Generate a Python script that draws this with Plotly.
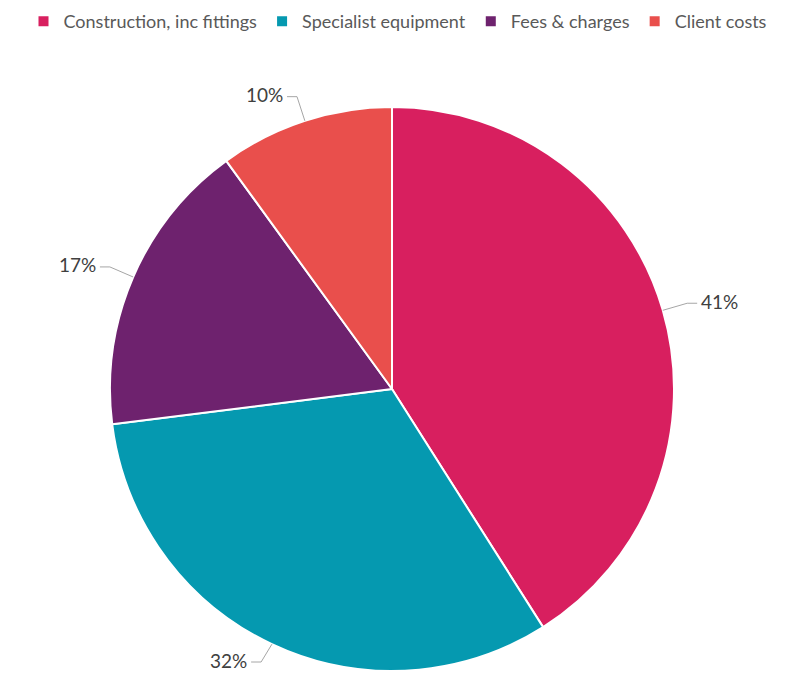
import math
import plotly.graph_objects as go

# cost breakdown, clockwise from 12 o'clock
categories = ['Construction, inc fittings', 'Specialist equipment', 'Fees & charges', 'Client costs']
shares = [41, 32, 17, 10]
colours = ['#D81F5F', '#0599B0', '#6E226E', '#E94F4C']

# the page body adds an 8px margin, so the figure is drawn 8px smaller
OFF = 8
W, H = 790 - OFF, 675 - OFF
# pie domain in page pixels (left, right, top, bottom), shifted into figure space
px_left, px_right, px_top, px_bottom = 110 - OFF, 674 - OFF, 107 - OFF, 671 - OFF
cx = (px_left + px_right) / 2
cy = (px_top + px_bottom) / 2
r = min(px_right - px_left, px_bottom - px_top) / 2

fig = go.Figure(go.Pie(
    labels=categories,
    values=shares,
    sort=False,
    direction='clockwise',
    rotation=0,
    marker=dict(colors=colours, line=dict(color='white', width=2)),
    textinfo='none',
    hoverinfo='label+percent',
    domain=dict(x=[px_left / W, px_right / W], y=[1 - px_bottom / H, 1 - px_top / H]),
))

# outside percentage labels with leader lines, placed at each slice's mid angle
total = sum(shares)
annotations = []
shapes = []
cum = 0
for v in shares:
    mid = (cum + v / 2) / total * 2 * math.pi
    cum += v
    sx, sy = math.sin(mid), -math.cos(mid)
    ex, ey = cx + r * sx, cy + r * sy
    bx, by = cx + 1.09 * r * sx, cy + 1.09 * r * sy
    by = min(by, H - 13)  # keep bottom labels inside the figure
    side = 1 if sx >= 0 else -1
    tx = bx + side * 10
    pct = round(100 * v / total)
    for (x0, y0, x1, y1) in [(ex, ey, bx, by), (bx, by, tx, by)]:
        shapes.append(dict(type='line', xref='paper', yref='paper',
                           x0=x0 / W, y0=1 - y0 / H, x1=x1 / W, y1=1 - y1 / H,
                           line=dict(color='#A6A6A6', width=1)))
    annotations.append(dict(
        x=(tx + side * 2) / W, y=1 - (by - 2) / H, xref='paper', yref='paper',
        text=f'{pct}%', showarrow=False,
        xanchor='left' if side > 0 else 'right', yanchor='middle',
        font=dict(size=19, color='#404040'),
    ))

fig.update_layout(
    width=W, height=H,
    margin=dict(l=0, r=0, t=0, b=0, autoexpand=False),
    paper_bgcolor='white',
    font=dict(family='Lato, Noto Sans, sans-serif', color='#595959'),
    showlegend=True,
    legend=dict(orientation='h', x=390 / W, xanchor='center', y=1 + 5 / H, yanchor='top',
                font=dict(size=18, color='#595959'), itemwidth=30,
                traceorder='normal'),
    annotations=annotations,
    shapes=shapes,
)

fig.write_html("out.html")
